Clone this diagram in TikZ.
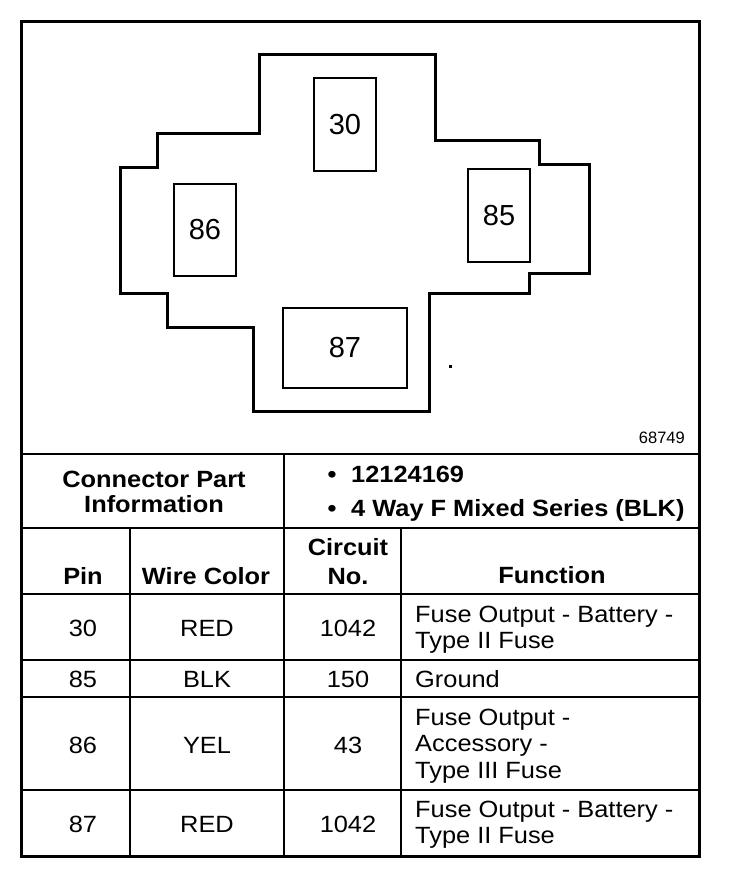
\documentclass[tikz,border=0pt]{standalone}
\usepackage{fontspec}
\setmainfont{Liberation Sans}[FakeStretch=1.08]
\newfontfamily\pinfont{Liberation Sans}
\begin{document}
\begin{tikzpicture}[x=1pt,y=-1pt,line join=miter,
  frame/.style={line width=3pt},
  rule/.style={line width=2.5pt},
  outline/.style={line width=3pt},
  pinbox/.style={draw,line width=2.5pt,inner sep=0pt,font=\pinfont\fontsize{29}{30}\selectfont},
  txt/.style={inner sep=0pt,anchor=base,font=\fontsize{23.5}{26}\selectfont},
  txtl/.style={txt,anchor=base west},
  bld/.style={txt,font=\fontsize{23.5}{26}\selectfont\bfseries},
  bldl/.style={bld,anchor=base west}]
\useasboundingbox (0,0) rectangle (736,878);
\fill[white] (0,0) rectangle (736,878);

% outer frame and table rules
\draw[frame] (21,21) rectangle (699,856);
\draw[rule] (21,454) -- (699,454);
\draw[rule] (21,528) -- (699,528);
\draw[rule] (21,594) -- (699,594);
\draw[rule] (21,660) -- (699,660);
\draw[rule] (21,697) -- (699,697);
\draw[rule] (21,790) -- (699,790);
\draw[rule] (284,454) -- (284,856);
\draw[rule] (130,528) -- (130,856);
\draw[rule] (401,528) -- (401,856);

% connector outline
\draw[outline] (259,54) -- (435,54) -- (435,140) -- (539,140) -- (539,164)
  -- (589,164) -- (589,273) -- (529,273) -- (529,293) -- (429,293)
  -- (429,411) -- (253,411) -- (253,327) -- (167,327) -- (167,293)
  -- (120,293) -- (120,167) -- (157,167) -- (157,133) -- (259,133) -- cycle;

% pin cavities
\node[pinbox,minimum width=62,minimum height=93] (p30) at (345,124.5) {30};
\node[pinbox,minimum width=62,minimum height=92] (p86) at (205,230) {86};
\node[pinbox,minimum width=62,minimum height=93] (p85) at (499,215.5) {85};
\node[pinbox,minimum width=124,minimum height=80] (p87) at (345,348) {87};

% stray dot
\fill (449,364.5) rectangle (451.5,367.5);

% figure number
\node[inner sep=0pt,anchor=base east,font=\pinfont\fontsize{16.5}{17}\selectfont] (fig) at (685,443) {68749};

% connector part information
\node[bld] (cpa) at (154,487) {Connector Part};
\node[bld] (cpb) at (154,512) {Information};
\node[bld] (bu1) at (332,482) {•};
\node[bldl] (pn1) at (351,482) {12124169};
\node[bld] (bu2) at (332,516) {•};
\node[bldl] (pn2) at (351,516) {4 Way F Mixed Series (BLK)};

% header
\node[bld] (hpin) at (83,584) {Pin};
\node[bld] (hwc) at (206,584) {Wire Color};
\node[bld] (hc1) at (348,555) {Circuit};
\node[bld] (hc2) at (348,584) {No.};
\node[bld] (hfn) at (552,583) {Function};

% row 30
\node[txt] (r1p) at (83,636) {30};
\node[txt] (r1w) at (207,636) {RED};
\node[txt] (r1c) at (348,636) {1042};
\node[txtl] (r1f1) at (415,622) {Fuse Output - Battery -};
\node[txtl] (r1f2) at (415,648) {Type II Fuse};

% row 85
\node[txt] (r2p) at (83,687) {85};
\node[txt] (r2w) at (207,687) {BLK};
\node[txt] (r2c) at (348,687) {150};
\node[txtl] (r2f1) at (415,687) {Ground};

% row 86
\node[txt] (r3p) at (83,753) {86};
\node[txt] (r3w) at (207,753) {YEL};
\node[txt] (r3c) at (348,753) {43};
\node[txtl] (r3f1) at (415,725) {Fuse Output -};
\node[txtl] (r3f2) at (415,751.5) {Accessory -};
\node[txtl] (r3f3) at (415,778) {Type III Fuse};

% row 87
\node[txt] (r4p) at (83,832) {87};
\node[txt] (r4w) at (207,832) {RED};
\node[txt] (r4c) at (348,832) {1042};
\node[txtl] (r4f1) at (415,817) {Fuse Output - Battery -};
\node[txtl] (r4f2) at (415,843) {Type II Fuse};
\end{tikzpicture}
\end{document}
